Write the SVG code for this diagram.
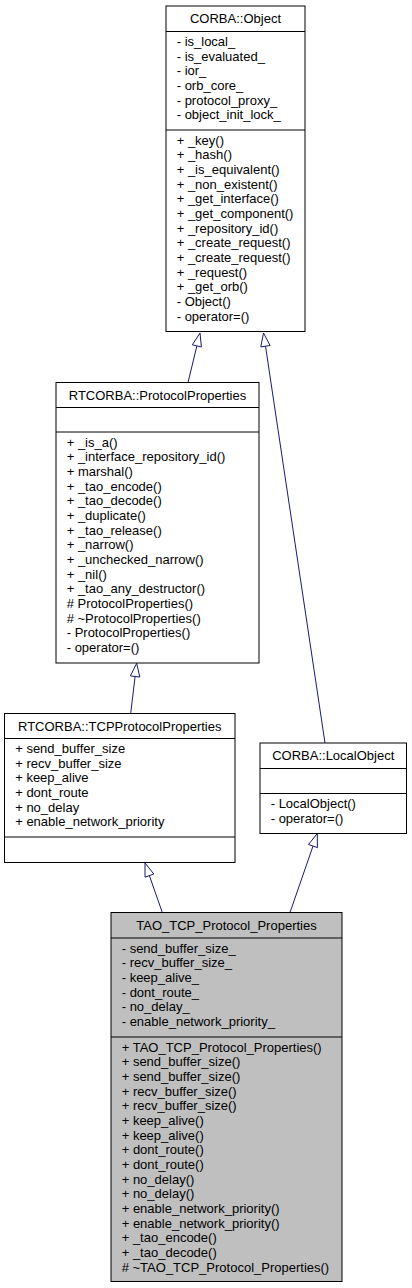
<svg xmlns="http://www.w3.org/2000/svg" width="412" height="1288" viewBox="0 0 412 1288">
<style>
text{font-family:"Liberation Sans",Arial,Helvetica,sans-serif;font-size:13px;fill:#000}
.t{text-anchor:middle}
.box{fill:#fff;stroke:#000;stroke-width:1}
.cur{fill:#bfbfbf;stroke:#000;stroke-width:1}
.sep{stroke:#000;stroke-width:1}
.edge{stroke:#191970;stroke-width:1;fill:none}
.head{stroke:#191970;stroke-width:1;fill:#fff}
</style>
<rect width="412" height="1288" fill="#fff"/>
<g id="connectors">
<line class="edge" x1="188" y1="382.5" x2="196.9" y2="345.9"/>
<polygon class="head" points="200,333 201.4,347 192.3,344.8"/>
<line class="edge" x1="325" y1="743" x2="265.5" y2="346.2"/>
<polygon class="head" points="263.5,333 270.1,345.5 260.8,346.9"/>
<line class="edge" x1="130.7" y1="713.5" x2="135.1" y2="676.5"/>
<polygon class="head" points="136.7,663.3 139.8,677.1 130.4,675.9"/>
<line class="edge" x1="162.3" y1="912.5" x2="149.4" y2="875.6"/>
<polygon class="head" points="145,863 153.8,874 145,877.2"/>
<line class="edge" x1="290" y1="912.5" x2="313" y2="846.1"/>
<polygon class="head" points="317.3,833.5 317.4,847.6 308.5,844.5"/>
</g>
<g id="corba_object">
<rect class="box" x="166" y="6" width="139" height="325.5"/>
<line class="sep" x1="166" y1="31.5" x2="305" y2="31.5"/>
<line class="sep" x1="166" y1="130" x2="305" y2="130"/>
<text class="t" x="235.5" y="23.3">CORBA::Object</text>
<text x="176.7" y="46"><tspan x="176.7">- is_local_</tspan><tspan x="176.7" dy="14.67">- is_evaluated_</tspan><tspan x="176.7" dy="14.67">- ior_</tspan><tspan x="176.7" dy="14.67">- orb_core_</tspan><tspan x="176.7" dy="14.67">- protocol_proxy_</tspan><tspan x="176.7" dy="14.67">- object_init_lock_</tspan></text>
<text x="176.7" y="144.5"><tspan x="176.7">+ _key()</tspan><tspan x="176.7" dy="14.67">+ _hash()</tspan><tspan x="176.7" dy="14.67">+ _is_equivalent()</tspan><tspan x="176.7" dy="14.67">+ _non_existent()</tspan><tspan x="176.7" dy="14.67">+ _get_interface()</tspan><tspan x="176.7" dy="14.67">+ _get_component()</tspan><tspan x="176.7" dy="14.67">+ _repository_id()</tspan><tspan x="176.7" dy="14.67">+ _create_request()</tspan><tspan x="176.7" dy="14.67">+ _create_request()</tspan><tspan x="176.7" dy="14.67">+ _request()</tspan><tspan x="176.7" dy="14.67">+ _get_orb()</tspan><tspan x="176.7" dy="14.67">- Object()</tspan><tspan x="176.7" dy="14.67">- operator=()</tspan></text>
</g>
<g id="rtcorba_protocolproperties">
<rect class="box" x="56" y="382.5" width="203" height="280.5"/>
<line class="sep" x1="56" y1="407.5" x2="259" y2="407.5"/>
<line class="sep" x1="56" y1="432" x2="259" y2="432"/>
<text class="t" x="157.5" y="399.5">RTCORBA::ProtocolProperties</text>
<text x="66.7" y="446.5"><tspan x="66.7">+ _is_a()</tspan><tspan x="66.7" dy="14.67">+ _interface_repository_id()</tspan><tspan x="66.7" dy="14.67">+ marshal()</tspan><tspan x="66.7" dy="14.67">+ _tao_encode()</tspan><tspan x="66.7" dy="14.67">+ _tao_decode()</tspan><tspan x="66.7" dy="14.67">+ _duplicate()</tspan><tspan x="66.7" dy="14.67">+ _tao_release()</tspan><tspan x="66.7" dy="14.67">+ _narrow()</tspan><tspan x="66.7" dy="14.67">+ _unchecked_narrow()</tspan><tspan x="66.7" dy="14.67">+ _nil()</tspan><tspan x="66.7" dy="14.67">+ _tao_any_destructor()</tspan><tspan x="66.7" dy="14.67"># ProtocolProperties()</tspan><tspan x="66.7" dy="14.67"># ~ProtocolProperties()</tspan><tspan x="66.7" dy="14.67">- ProtocolProperties()</tspan><tspan x="66.7" dy="14.67">- operator=()</tspan></text>
</g>
<g id="rtcorba_tcpprotocolproperties">
<rect class="box" x="4.5" y="713.5" width="230.5" height="149"/>
<line class="sep" x1="4.5" y1="738.5" x2="235" y2="738.5"/>
<line class="sep" x1="4.5" y1="837" x2="235" y2="837"/>
<text class="t" x="119.75" y="730.5">RTCORBA::TCPProtocolProperties</text>
<text x="15.2" y="753"><tspan x="15.2">+ send_buffer_size</tspan><tspan x="15.2" dy="14.67">+ recv_buffer_size</tspan><tspan x="15.2" dy="14.67">+ keep_alive</tspan><tspan x="15.2" dy="14.67">+ dont_route</tspan><tspan x="15.2" dy="14.67">+ no_delay</tspan><tspan x="15.2" dy="14.67">+ enable_network_priority</tspan></text>
</g>
<g id="corba_localobject">
<rect class="box" x="260" y="743" width="146.5" height="90.5"/>
<line class="sep" x1="260" y1="768.5" x2="406.5" y2="768.5"/>
<line class="sep" x1="260" y1="793.5" x2="406.5" y2="793.5"/>
<text class="t" x="333.25" y="760.25">CORBA::LocalObject</text>
<text x="270.7" y="808"><tspan x="270.7">- LocalObject()</tspan><tspan x="270.7" dy="14.67">- operator=()</tspan></text>
</g>
<g id="tao_tcp_protocol_properties">
<rect class="cur" x="111" y="912.5" width="231" height="369"/>
<line class="sep" x1="111" y1="938" x2="342" y2="938"/>
<line class="sep" x1="111" y1="1037" x2="342" y2="1037"/>
<text class="t" x="226.5" y="929.75">TAO_TCP_Protocol_Properties</text>
<text x="121.7" y="952.5"><tspan x="121.7">- send_buffer_size_</tspan><tspan x="121.7" dy="14.67">- recv_buffer_size_</tspan><tspan x="121.7" dy="14.67">- keep_alive_</tspan><tspan x="121.7" dy="14.67">- dont_route_</tspan><tspan x="121.7" dy="14.67">- no_delay_</tspan><tspan x="121.7" dy="14.67">- enable_network_priority_</tspan></text>
<text x="121.7" y="1051.5"><tspan x="121.7">+ TAO_TCP_Protocol_Properties()</tspan><tspan x="121.7" dy="14.67">+ send_buffer_size()</tspan><tspan x="121.7" dy="14.67">+ send_buffer_size()</tspan><tspan x="121.7" dy="14.67">+ recv_buffer_size()</tspan><tspan x="121.7" dy="14.67">+ recv_buffer_size()</tspan><tspan x="121.7" dy="14.67">+ keep_alive()</tspan><tspan x="121.7" dy="14.67">+ keep_alive()</tspan><tspan x="121.7" dy="14.67">+ dont_route()</tspan><tspan x="121.7" dy="14.67">+ dont_route()</tspan><tspan x="121.7" dy="14.67">+ no_delay()</tspan><tspan x="121.7" dy="14.67">+ no_delay()</tspan><tspan x="121.7" dy="14.67">+ enable_network_priority()</tspan><tspan x="121.7" dy="14.67">+ enable_network_priority()</tspan><tspan x="121.7" dy="14.67">+ _tao_encode()</tspan><tspan x="121.7" dy="14.67">+ _tao_decode()</tspan><tspan x="121.7" dy="14.67"># ~TAO_TCP_Protocol_Properties()</tspan></text>
</g>
</svg>
